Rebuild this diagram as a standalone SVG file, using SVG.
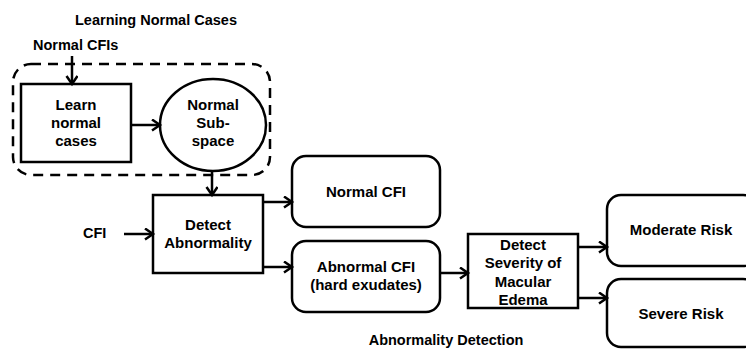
<svg xmlns="http://www.w3.org/2000/svg" width="746" height="349" viewBox="0 0 746 349">
<defs>
<style>
.box{fill:#fff;stroke:#000;stroke-width:2.5}
.dash{fill:none;stroke:#000;stroke-width:2.5;stroke-dasharray:10 7}
.conn{fill:none;stroke:#000;stroke-width:2.5}
text{font-family:"Liberation Sans",Arial,sans-serif;font-weight:bold;font-size:15px;fill:#000}
.lbl{font-size:14.5px}
.c{text-anchor:middle}
</style>
<marker id="arr" markerUnits="userSpaceOnUse" markerWidth="12" markerHeight="14" refX="9" refY="6" orient="auto">
<path d="M1,0.5 L9,6 L1,11.5" fill="none" stroke="#000" stroke-width="2.5"/>
</marker>
</defs>
<rect width="746" height="349" fill="#fff"/>
<g id="group-learning">
<rect class="dash" x="13" y="64" width="257" height="111" rx="18"/>
<text class="c lbl" x="156" y="25">Learning Normal Cases</text>
</g>
<g id="label-normal-cfis"><text class="lbl" x="33" y="50">Normal CFIs</text></g>
<g id="node-learn">
<rect class="box" x="21" y="84" width="110" height="78"/>
<text class="c" x="76" y="110">Learn</text>
<text class="c" x="76" y="128">normal</text>
<text class="c" x="76" y="146">cases</text>
</g>
<g id="node-subspace">
<ellipse class="box" cx="213" cy="125" rx="53" ry="46"/>
<text class="c" x="213" y="110">Normal</text>
<text class="c" x="213" y="128">Sub-</text>
<text class="c" x="213" y="146">space</text>
</g>
<g id="label-cfi"><text class="lbl" x="83" y="238">CFI</text></g>
<g id="node-detect">
<rect class="box" x="153" y="195" width="110" height="78"/>
<text class="c" x="208" y="230">Detect</text>
<text class="c" x="208" y="248">Abnormality</text>
</g>
<g id="node-normal-cfi">
<rect class="box" x="292" y="156" width="148" height="71" rx="14"/>
<text class="c" x="366" y="197">Normal CFI</text>
</g>
<g id="node-abnormal-cfi">
<rect class="box" x="292" y="241" width="148" height="71" rx="14"/>
<text class="c" x="366" y="272">Abnormal CFI</text>
<text class="c" x="366" y="290">(hard exudates)</text>
</g>
<g id="node-severity">
<rect class="box" x="468" y="234" width="110" height="74"/>
<text class="c" x="523" y="250">Detect</text>
<text class="c" x="523" y="268">Severity of</text>
<text class="c" x="523" y="287">Macular</text>
<text class="c" x="523" y="305">Edema</text>
</g>
<g id="node-moderate">
<rect class="box" x="607" y="195" width="150" height="71" rx="14"/>
<text class="c" x="681" y="235">Moderate Risk</text>
</g>
<g id="node-severe">
<rect class="box" x="607" y="279" width="150" height="68" rx="14"/>
<text class="c" x="681" y="319">Severe Risk</text>
</g>
<g id="label-abnormality-detection"><text class="c lbl" x="446" y="345">Abnormality Detection</text></g>
<g id="connectors">
<line class="conn" x1="72" y1="56" x2="72" y2="84" marker-end="url(#arr)"/>
<line class="conn" x1="131" y1="125" x2="160" y2="125" marker-end="url(#arr)"/>
<line class="conn" x1="212" y1="171" x2="212" y2="195" marker-end="url(#arr)"/>
<line class="conn" x1="124" y1="234" x2="153" y2="234" marker-end="url(#arr)"/>
<line class="conn" x1="263" y1="202" x2="292" y2="202" marker-end="url(#arr)"/>
<line class="conn" x1="263" y1="267" x2="292" y2="267" marker-end="url(#arr)"/>
<line class="conn" x1="440" y1="273" x2="468" y2="273" marker-end="url(#arr)"/>
<line class="conn" x1="578" y1="247" x2="607" y2="247" marker-end="url(#arr)"/>
<line class="conn" x1="578" y1="298" x2="607" y2="298" marker-end="url(#arr)"/>
</g>
</svg>
